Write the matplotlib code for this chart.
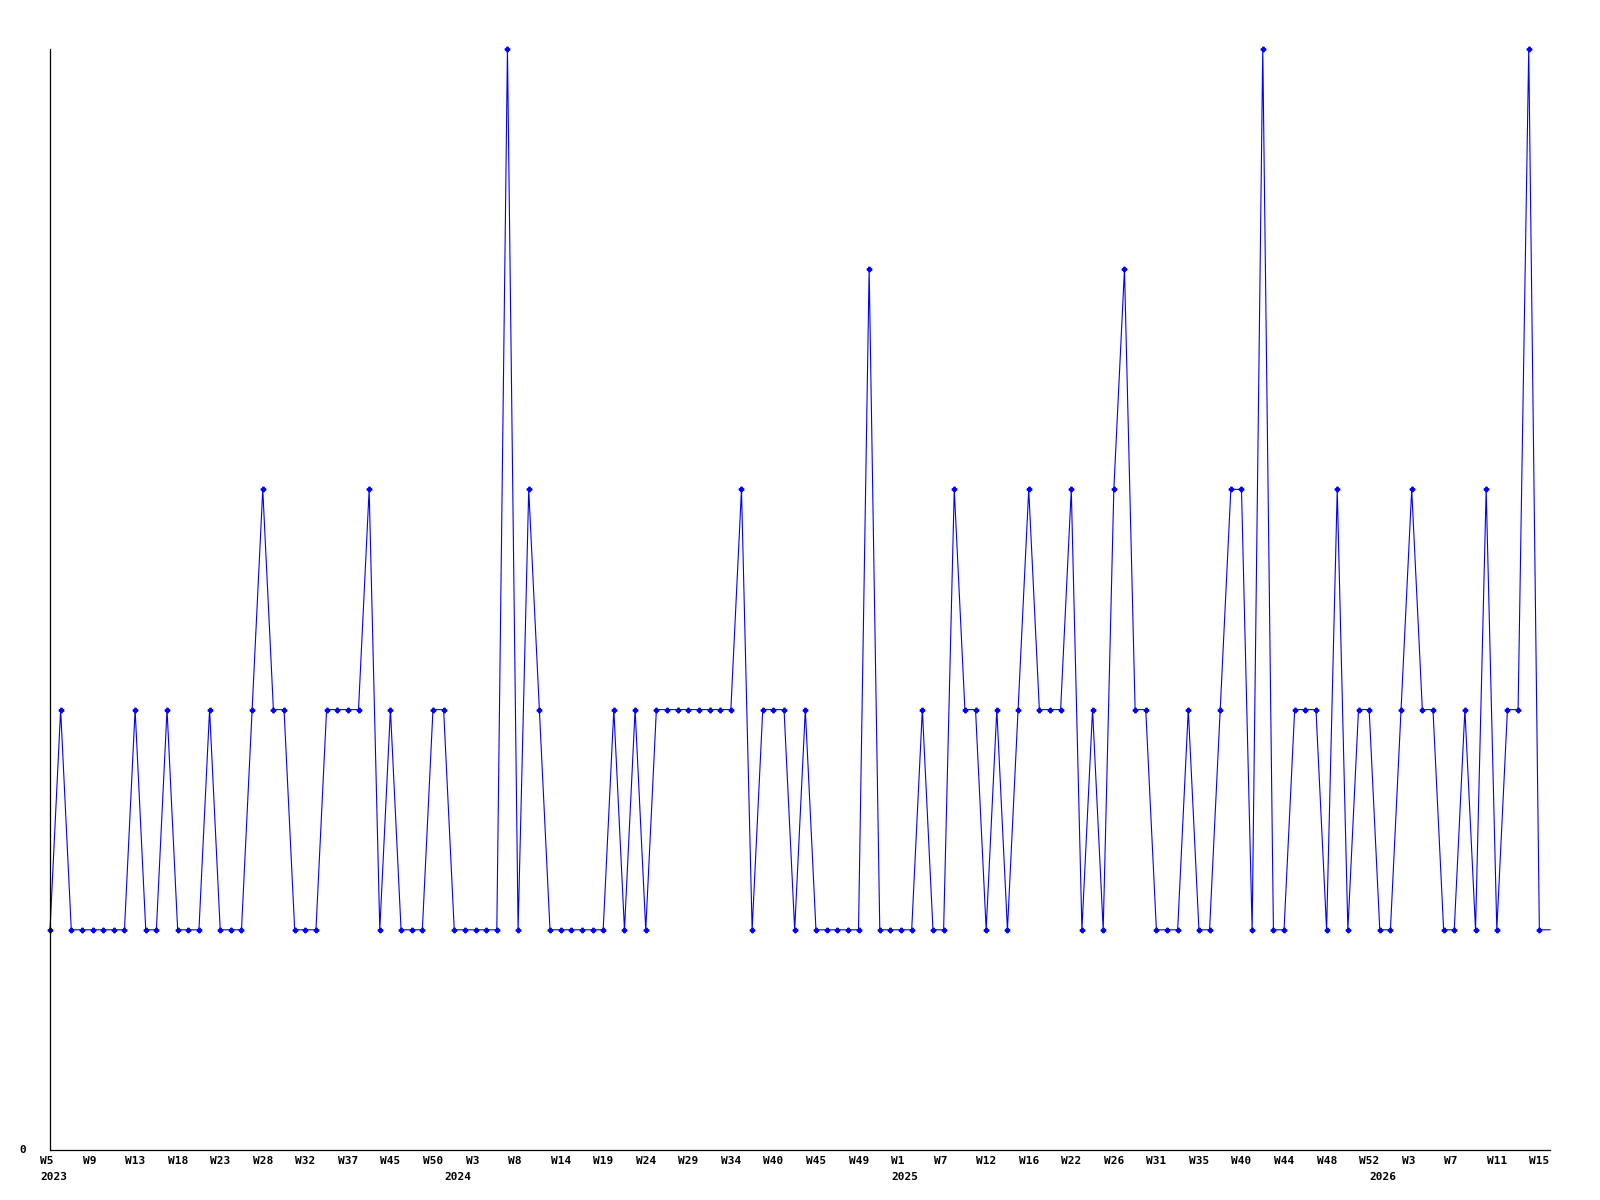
"""
Gráfico semanal de ocorrências (W5/2023 a W15/2026).

Recria o gráfico de linha com marcadores, eixo X por semana e rótulos de ano.
"""

import matplotlib
matplotlib.use('Agg')
import matplotlib.pyplot as plt
from matplotlib.transforms import offset_copy

# Valores por semana (o último ponto é a semana corrente, desenhado sem marcador)
valores = [
    1, 2, 1, 1, 1, 1, 1, 1, 2, 1,
    1, 2, 1, 1, 1, 2, 1, 1, 1, 2,
    3, 2, 2, 1, 1, 1, 2, 2, 2, 2,
    3, 1, 2, 1, 1, 1, 2, 2, 1, 1,
    1, 1, 1, 5, 1, 3, 2, 1, 1, 1,
    1, 1, 1, 2, 1, 2, 1, 2, 2, 2,
    2, 2, 2, 2, 2, 3, 1, 2, 2, 2,
    1, 2, 1, 1, 1, 1, 1, 4, 1, 1,
    1, 1, 2, 1, 1, 3, 2, 2, 1, 2,
    1, 2, 3, 2, 2, 2, 3, 1, 2, 1,
    3, 4, 2, 2, 1, 1, 1, 2, 1, 1,
    2, 3, 3, 1, 5, 1, 1, 2, 2, 2,
    1, 3, 1, 2, 2, 1, 1, 2, 3, 2,
    2, 1, 1, 2, 1, 3, 1, 2, 2, 5,
    1, 1,
]

# Rótulos das semanas (um a cada 4 pontos)
rotulos_semanas = [
    'W5', 'W9', 'W13', 'W18', 'W23', 'W28', 'W32', 'W37', 'W45', 'W50',
    'W3', 'W8', 'W14', 'W19', 'W24', 'W29', 'W34', 'W40', 'W45', 'W49',
    'W1', 'W7', 'W12', 'W16', 'W22', 'W26', 'W31', 'W35', 'W40', 'W44',
    'W48', 'W52', 'W3', 'W7', 'W11', 'W15',
]
passo_rotulos = 4

# Anos e o índice do primeiro ponto de cada ano
anos = ['2023', '2024', '2025', '2026']
inicio_anos = [0, 38, 80, 125]

AZUL = '#0000ff'
FONTE = {'family': 'DejaVu Sans Mono', 'weight': 'bold', 'size': 8}


def gerar_grafico(caminho_saida='out.png'):
    fig = plt.figure(figsize=(16, 12), dpi=100)
    ax = fig.add_axes([50 / 1600, 1 - 1150 / 1200, 1500 / 1600, 1101 / 1200])

    x = list(range(len(valores)))

    # Linha completa + marcadores (sem o da semana corrente)
    ax.plot(x, valores, color=AZUL, linewidth=0.8, clip_on=False)
    ax.plot(x[:-1], valores[:-1], linestyle='none', marker='P', markersize=3.2,
            color=AZUL, clip_on=False)

    ax.set_xlim(0, len(valores) - 1)
    ax.set_ylim(0, 5)

    # Apenas os eixos esquerdo e inferior
    for lado in ('top', 'right'):
        ax.spines[lado].set_visible(False)
    for lado in ('left', 'bottom'):
        ax.spines[lado].set_linewidth(0.9)
        ax.spines[lado].set_color('black')
    ax.set_xticks([])
    ax.set_yticks([])

    # Rótulos das semanas e dos anos abaixo do eixo X
    trans_semana = offset_copy(ax.get_xaxis_transform(), fig=fig, x=-10, y=-11, units='dots')
    trans_ano = offset_copy(ax.get_xaxis_transform(), fig=fig, x=-10, y=-27, units='dots')
    for i, rotulo in enumerate(rotulos_semanas):
        ax.text(i * passo_rotulos, 0, rotulo, transform=trans_semana,
                ha='left', va='center', fontdict=FONTE)
    for ano, inicio in zip(anos, inicio_anos):
        ax.text(inicio, 0, ano, transform=trans_ano,
                ha='left', va='center', fontdict=FONTE)

    # Único rótulo do eixo Y
    trans_y = offset_copy(ax.get_yaxis_transform(), fig=fig, x=-24, y=0, units='dots')
    ax.text(0, 0, '0', transform=trans_y, ha='right', va='center', fontdict=FONTE)

    fig.savefig(caminho_saida, dpi=100, facecolor='white')
    plt.close(fig)


if __name__ == '__main__':
    gerar_grafico()
